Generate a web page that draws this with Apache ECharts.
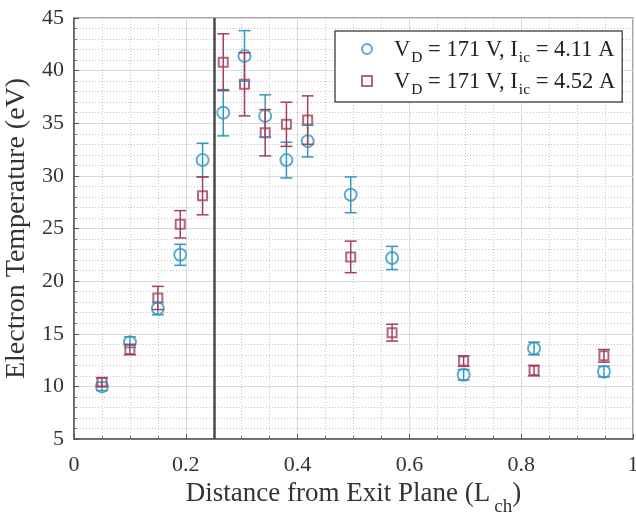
<!DOCTYPE html>
<html>
<head>
<meta charset="utf-8">
<script src="https://cdn.jsdelivr.net/npm/echarts@6/dist/echarts.min.js"></script>
<style>
  html, body { margin: 0; padding: 0; background: #fff; }
  #chart { width: 636px; height: 517px; }
</style>
</head>
<body>
<div id="chart"></div>
<script>
// distance from exit plane (L_ch), shared by both runs
var xs = [0.05, 0.10, 0.15, 0.19, 0.23, 0.267, 0.305, 0.342, 0.38, 0.418, 0.495, 0.569, 0.697, 0.823, 0.948];
// run 1: VD = 171 V, Iic = 4.11 A
var teA = [10.0, 14.2, 17.4, 22.5, 31.5, 36.0, 41.4, 35.7, 31.5, 33.3, 28.2, 22.2, 11.1, 13.6, 11.4];
var errA = [0.4, 0.5, 0.6, 1.0, 1.6, 2.2, 2.4, 2.0, 1.7, 1.5, 1.7, 1.1, 0.5, 0.6, 0.5];
// run 2: VD = 171 V, Iic = 4.52 A
var teB = [10.4, 13.5, 18.4, 25.4, 28.1, 40.8, 38.7, 34.1, 34.9, 35.3, 22.3, 15.1, 12.4, 11.5, 12.9];
var errB = [0.4, 0.5, 1.1, 1.3, 1.8, 2.7, 3.0, 2.2, 2.1, 2.3, 1.5, 0.8, 0.5, 0.5, 0.6];
var nameA = 'VD = 171 V, Iic = 4.11 A';
var nameB = 'VD = 171 V, Iic = 4.52 A';
var legendRich = {};
legendRich[nameA] = '{n|V}{s|D}{n| = 171 V, I}{s|ic}{n| = 4.11 A}';
legendRich[nameB] = '{n|V}{s|D}{n| = 171 V, I}{s|ic}{n| = 4.52 A}';
var exitLine = 0.25;

var cyan = '#3497bf';
var wine = '#a3405c';
var font = 'Liberation Serif';

function points(ys) {
  return xs.map(function (x, i) { return [x, ys[i]]; });
}
function bars(ys, es) {
  return xs.map(function (x, i) { return [x, ys[i] - es[i], ys[i] + es[i]]; });
}
function errRender(color) {
  return function (params, api) {
    var hi = api.coord([api.value(0), api.value(2)]);
    var lo = api.coord([api.value(0), api.value(1)]);
    var hw = 6;
    var st = { stroke: color, lineWidth: 1.5 };
    return {
      type: 'group',
      children: [
        { type: 'line', shape: { x1: hi[0], y1: hi[1], x2: lo[0], y2: lo[1] }, style: st },
        { type: 'line', shape: { x1: hi[0] - hw, y1: hi[1], x2: hi[0] + hw, y2: hi[1] }, style: st },
        { type: 'line', shape: { x1: lo[0] - hw, y1: lo[1], x2: lo[0] + hw, y2: lo[1] }, style: st }
      ]
    };
  };
}

var chart = echarts.init(document.getElementById('chart'));
var option = {
  backgroundColor: '#fff',
  animation: false,
  grid: {
    left: 74, right: 3, top: 18, bottom: 78,
    outerBoundsMode: 'none',
    show: true, borderColor: '#888', borderWidth: 1.5
  },
  legend: {
    orient: 'vertical',
    left: 335, top: 31,
    padding: [8, 7, 4, 26],
    itemGap: 5,
    itemWidth: 10, itemHeight: 10,
    borderColor: '#555', borderWidth: 1.5,
    backgroundColor: '#fff',
    data: [
      { name: nameA, itemStyle: { borderWidth: 1.2 } },
      { name: nameB, icon: 'emptyRect', itemStyle: { borderWidth: 1.2 } }
    ],
    formatter: function (n) { return legendRich[n]; },
    textStyle: {
      padding: [0, 0, 0, 17],
      rich: {
        n: { fontFamily: font, fontSize: 22.5, color: '#222', lineHeight: 20, verticalAlign: 'top' },
        s: { fontFamily: font, fontSize: 15.5, color: '#222', lineHeight: 16, padding: [11, 0, 0, 1], verticalAlign: 'top' }
      }
    }
  },
  xAxis: {
    type: 'value', min: 0, max: 1, interval: 0.2,
    name: '{n|Distance from Exit Plane (L}{s|ch}{n|)}',
    nameLocation: 'middle', nameGap: 40,
    nameTextStyle: {
      rich: {
        n: { fontFamily: font, fontSize: 27, color: '#333', lineHeight: 27, verticalAlign: 'top' },
        s: { fontFamily: font, fontSize: 19, color: '#333', lineHeight: 19, padding: [17, 0, 0, 4], verticalAlign: 'top' }
      }
    },
    axisLine: { lineStyle: { color: '#555', width: 1.5 } },
    axisTick: { inside: true, length: 5, lineStyle: { color: '#555' } },
    minorTick: { show: true, splitNumber: 4, length: 3, lineStyle: { color: '#777' } },
    axisLabel: { fontFamily: font, fontSize: 22, color: '#333', margin: 15 },
    splitLine: { show: true, lineStyle: { color: '#d9d9d9', width: 1 } },
    minorSplitLine: { show: true, lineStyle: { color: '#c4c4c4', type: [1, 2], width: 1 } }
  },
  yAxis: {
    type: 'value', min: 5, max: 45, interval: 5,
    name: 'Electron Temperature (eV)',
    nameLocation: 'middle', nameGap: 42,
    nameTextStyle: { fontFamily: font, fontSize: 28, color: '#333' },
    axisLine: { lineStyle: { color: '#555', width: 1.5 } },
    axisTick: { inside: true, length: 5, lineStyle: { color: '#555' } },
    minorTick: { show: true, splitNumber: 5, length: 3, lineStyle: { color: '#777' } },
    axisLabel: { fontFamily: font, fontSize: 22, color: '#333', margin: 10 },
    splitLine: { show: true, lineStyle: { color: '#d9d9d9', width: 1 } },
    minorSplitLine: { show: true, lineStyle: { color: '#c4c4c4', type: [1, 2], width: 1 } }
  },
  series: [
    {
      name: nameA, type: 'scatter', data: points(teA),
      symbol: 'emptyCircle', symbolSize: 12,
      itemStyle: { color: cyan, borderWidth: 1.5 },
      z: 3,
      markLine: {
        silent: true, symbol: 'none', label: { show: false },
        lineStyle: { color: '#4a4a4a', width: 2.5, type: 'solid' },
        data: [{ xAxis: exitLine }]
      }
    },
    {
      name: nameB, type: 'scatter', data: points(teB),
      symbol: 'emptyRect', symbolSize: 9,
      itemStyle: { color: wine, borderWidth: 1.3 },
      z: 3
    },
    {
      name: 'errA', type: 'custom', data: bars(teA, errA),
      renderItem: errRender(cyan), z: 4,
      encode: { x: 0, y: [1, 2] }
    },
    {
      name: 'errB', type: 'custom', data: bars(teB, errB),
      renderItem: errRender(wine), z: 4,
      encode: { x: 0, y: [1, 2] }
    }
  ]
};
chart.setOption(option);
</script>
</body>
</html>
